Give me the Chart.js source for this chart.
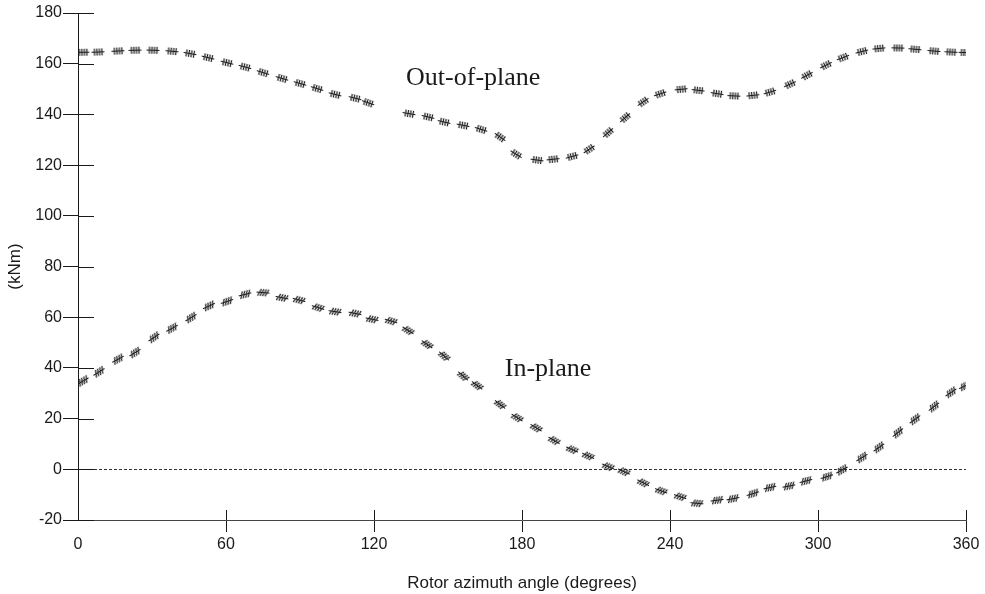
<!DOCTYPE html>
<html>
<head>
<meta charset="utf-8">
<script src="https://cdn.jsdelivr.net/npm/chart.js@4.4.1/dist/chart.umd.min.js"></script>
<style>
  html, body { margin: 0; padding: 0; background: #fff; }
</style>
</head>
<body>
<canvas id="chart" width="985" height="594"></canvas>
<script>
// azimuth (deg) and bending moment (kNm)
const outAngle = [2.0, 8.1, 16.2, 23.1, 30.4, 38.1, 45.4, 52.7, 60.4, 67.7, 75.0, 82.7, 90.0, 96.9, 104.2, 112.3, 117.6,
    134.2, 141.9, 148.4, 156.1, 163.4, 171.1, 177.6, 186.1, 192.6, 200.3, 207.2, 214.9, 221.8, 229.1, 236.0,
    244.5, 251.4, 259.1, 265.9, 273.6, 280.5, 288.6, 295.5, 303.2, 310.1, 317.8, 324.7, 332.4, 339.3, 347.0, 353.9, 359.6];
const outMoment = [164.5, 164.6, 165.0, 165.3, 165.3, 164.9, 164.0, 162.4, 160.4, 158.7, 156.5, 154.2, 152.2, 150.2, 147.9, 146.4, 144.6,
    140.3, 139.0, 137.0, 135.7, 134.1, 131.1, 124.3, 122.0, 122.3, 123.4, 126.2, 132.8, 138.7, 144.9, 148.1,
    149.9, 149.5, 148.2, 147.3, 147.5, 148.8, 151.9, 155.4, 159.4, 162.4, 164.8, 166.0, 166.2, 165.7, 165.0, 164.6, 164.4];

const inAngle = [2.0, 8.5, 16.2, 23.1, 30.8, 38.1, 45.8, 53.1, 60.4, 67.7, 75.0, 82.7, 89.6, 97.3, 104.2, 112.3, 119.2, 126.9,
    133.8, 141.5, 148.4, 156.1, 161.8, 171.1, 178.0, 185.7, 193.0, 200.3, 206.8, 214.9, 221.3, 229.1, 236.4,
    244.1, 250.9, 259.1, 265.5, 273.6, 280.5, 288.2, 295.1, 303.6, 309.7, 317.8, 324.7, 332.4, 339.3, 347.0, 353.9, 359.6];
const inMoment = [34.8, 38.4, 43.4, 46.0, 52.0, 55.6, 59.8, 64.4, 66.2, 69.0, 69.7, 67.7, 66.8, 63.8, 62.2, 61.5, 59.2, 58.5,
    54.8, 49.3, 44.7, 36.8, 33.1, 25.6, 20.4, 16.4, 11.4, 7.8, 5.3, 1.1, -0.9, -5.3, -8.5,
    -10.8, -13.4, -12.2, -11.6, -9.6, -7.2, -6.6, -4.6, -2.9, -0.3, 4.6, 8.6, 14.5, 19.7, 24.7, 30.3, 32.9];

const xTickValues = [0, 60, 120, 180, 240, 300, 360];
const yTickValues = [-20, 0, 20, 40, 60, 80, 100, 120, 140, 160, 180];

const curveLabels = [
    { text: 'Out-of-plane', x: 133, y: 151.5 },
    { text: 'In-plane', x: 173, y: 36.7 }
];

const ink = '#1a1a1a';

// small dash with cross hatches, used as point marker
function makeMarker(slant) {
    const c = document.createElement('canvas');
    c.width = 15; c.height = 9;
    const g = c.getContext('2d');
    g.strokeStyle = ink;
    g.lineWidth = 1.2;
    g.beginPath();
    g.moveTo(1, 4.5); g.lineTo(14, 4.5);
    [4, 6.5, 9, 11.5].forEach(x => {
        g.moveTo(x - slant, 8); g.lineTo(x + slant, 1);
    });
    g.stroke();
    return c;
}

function slopeAngle(c) {
    const pts = c.dataset.data, i = c.dataIndex;
    const xs = c.chart.scales.x, ys = c.chart.scales.y;
    if (!xs || !ys || !pts[i]) return 0;
    const a = pts[i - 1] && Math.abs(pts[i - 1].x - pts[i].x) < 12 ? pts[i - 1] : pts[i];
    const b = pts[i + 1] && Math.abs(pts[i + 1].x - pts[i].x) < 12 ? pts[i + 1] : pts[i];
    if (a === b) return 0;
    const dx = xs.getPixelForValue(b.x) - xs.getPixelForValue(a.x);
    const dy = ys.getPixelForValue(b.y) - ys.getPixelForValue(a.y);
    return Math.atan2(dy, dx) * 180 / Math.PI;
}

const axisMarks = {
    id: 'axisMarks',
    afterDraw(chart) {
        const { ctx, chartArea, scales: { x, y } } = chart;
        ctx.save();
        ctx.strokeStyle = ink;
        ctx.lineWidth = 1;
        ctx.beginPath();
        y.ticks.forEach(t => {
            const py = Math.round(y.getPixelForValue(t.value)) + 0.5;
            ctx.moveTo(chartArea.left, py);
            ctx.lineTo(chartArea.left + 16, py);
        });
        x.ticks.forEach(t => {
            if (t.value === 0) return;
            const px = Math.round(x.getPixelForValue(t.value)) + 0.5;
            ctx.moveTo(px, chartArea.bottom);
            ctx.lineTo(px, chartArea.bottom - 10);
        });
        ctx.stroke();

        ctx.fillStyle = ink;
        ctx.font = '26px "Liberation Serif", "Times New Roman", serif';
        ctx.textBaseline = 'alphabetic';
        curveLabels.forEach(l => ctx.fillText(l.text, x.getPixelForValue(l.x), y.getPixelForValue(l.y)));
        ctx.restore();
    }
};

const tickFont = { family: '"Liberation Sans", Arial, sans-serif', size: 16 };
const titleFont = { family: '"Liberation Sans", Arial, sans-serif', size: 17 };

new Chart(document.getElementById('chart'), {
    type: 'scatter',
    data: {
        datasets: [
            {
                label: 'Out-of-plane',
                data: outAngle.map((a, i) => ({ x: a, y: outMoment[i] })),
                showLine: false,
                pointStyle: makeMarker(0),
                pointRadius: 7,
                pointRotation: slopeAngle
            },
            {
                label: 'In-plane',
                data: inAngle.map((a, i) => ({ x: a, y: inMoment[i] })),
                showLine: false,
                pointStyle: makeMarker(1.6),
                pointRadius: 7,
                pointRotation: slopeAngle
            }
        ]
    },
    options: {
        responsive: false,
        animation: false,
        devicePixelRatio: 1,
        events: [],
        layout: { padding: { top: 13, right: 19, left: 0, bottom: 0 } },
        plugins: { legend: { display: false }, tooltip: { enabled: false } },
        scales: {
            x: {
                type: 'linear',
                min: 0,
                max: 360,
                afterFit: s => { s.height = 74; },
                afterBuildTicks: s => { s.ticks = xTickValues.map(v => ({ value: v })); },
                grid: {
                    drawOnChartArea: false,
                    tickLength: 12,
                    tickColor: c => (c.tick && c.tick.value === 0 ? 'rgba(0,0,0,0)' : ink)
                },
                border: { color: '#444', width: 1 },
                ticks: { font: tickFont, color: ink, padding: 3, maxRotation: 0 },
                title: {
                    display: true,
                    text: 'Rotor azimuth angle (degrees)',
                    font: titleFont,
                    color: ink,
                    padding: 0
                }
            },
            y: {
                type: 'linear',
                min: -20,
                max: 180,
                afterFit: s => { s.width = 78; },
                afterBuildTicks: s => { s.ticks = yTickValues.map(v => ({ value: v })); },
                grid: {
                    color: c => (c.tick && c.tick.value === 0 ? '#333' : 'rgba(0,0,0,0)'),
                    tickColor: ink,
                    tickLength: 15
                },
                border: { color: ink, width: 1, dash: [3, 2] },
                ticks: { font: tickFont, color: ink, padding: 1 },
                title: {
                    display: true,
                    text: '(kNm)',
                    font: titleFont,
                    color: ink,
                    padding: { top: 5, bottom: 0 }
                }
            }
        }
    },
    plugins: [axisMarks]
});
</script>
</body>
</html>
